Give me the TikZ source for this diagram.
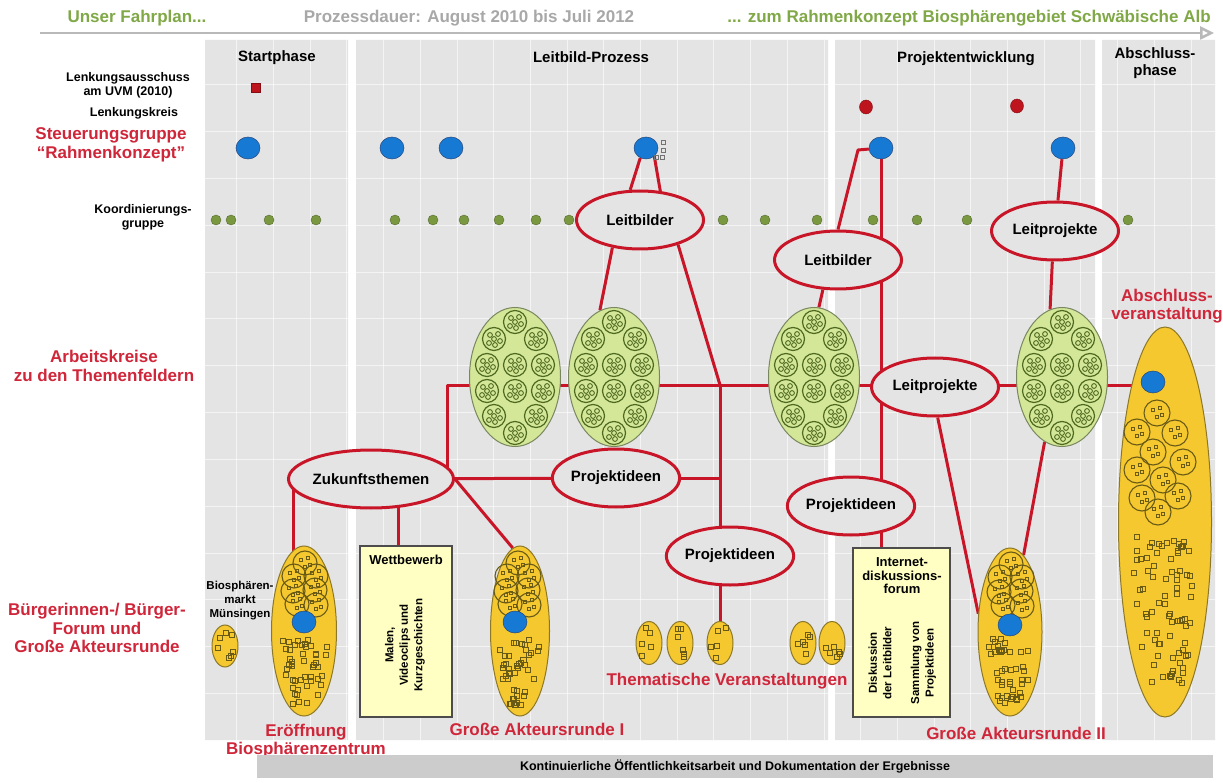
\documentclass[tikz,border=0pt]{standalone}
\usepackage{fontspec}
\setmainfont{Liberation Sans}
\usetikzlibrary{arrows.meta,shapes.geometric,calc}

\definecolor{panelgray}{RGB}{228,228,228}
\definecolor{redline}{RGB}{200,22,40}
\definecolor{redtext}{RGB}{208,38,58}
\definecolor{headgreen}{RGB}{128,168,70}
\definecolor{headgray}{RGB}{168,168,168}
\definecolor{sgblue}{RGB}{22,122,212}
\definecolor{sgdark}{RGB}{40,70,120}
\definecolor{lkred}{RGB}{190,20,30}
\definecolor{kgfill}{RGB}{122,152,64}
\definecolor{kgdark}{RGB}{88,108,52}
\definecolor{akfill}{RGB}{212,230,152}
\definecolor{akline}{RGB}{120,135,95}
\definecolor{akdark}{RGB}{78,106,32}
\definecolor{evfill}{RGB}{245,200,48}
\definecolor{evline}{RGB}{140,120,40}
\definecolor{evdark}{RGB}{105,90,22}
\definecolor{boxfill}{RGB}{255,255,196}
\definecolor{bargray}{RGB}{204,204,204}

\pgfdeclarelayer{back}
\pgfdeclarelayer{background}
\pgfsetlayers{back,background,main}

\begin{document}
\begin{tikzpicture}[x=1pt,y=-1pt,
    main node/.style={ellipse, draw=redline, line width=3pt, fill=panelgray, inner sep=0pt,
                      minimum width=127pt, minimum height=58pt, font=\bfseries\fontsize{15}{17}\selectfont},
    ak node/.style={ellipse, draw=akline, line width=1pt, fill=akfill, minimum width=91pt, minimum height=139pt},
    ev node/.style={ellipse, draw=evline, line width=1pt, fill=evfill, inner sep=0pt},
    box node/.style={rectangle, draw=black!70, line width=1.2pt, fill=boxfill, inner sep=0pt},
    sg dot/.style={ellipse, draw=sgdark, line width=0.5pt, fill=sgblue, minimum width=24pt, minimum height=22pt, inner sep=0pt},
    lk dot/.style={ellipse, fill=lkred, draw=lkred!70!black, minimum width=13pt, minimum height=14pt, inner sep=0pt},
    la box/.style={rectangle, fill=lkred, draw=lkred!70!black, minimum size=9pt, inner sep=0pt},
    kg dot/.style={circle, fill=kgfill, draw=kgdark, minimum size=10pt, inner sep=0pt},
    head/.style={font=\bfseries\fontsize{17}{19}\selectfont},
    row label/.style={font=\bfseries\fontsize{12.5}{14}\selectfont, align=center},
    small label/.style={font=\bfseries\fontsize{11.5}{14}\selectfont, align=center},
    red label/.style={text=redtext, font=\bfseries\fontsize{17}{18.5}\selectfont, align=center},
    phase title/.style={font=\bfseries\fontsize{15}{17}\selectfont, align=center},
    box title/.style={font=\bfseries\fontsize{13}{13.5}\selectfont, align=center},
    box text/.style={font=\bfseries\fontsize{11.5}{14.5}\selectfont, align=center, rotate=90},
    connector/.style={draw=redline, line width=3pt, line join=round},
    ring/.style={draw=akdark, line width=1.2pt},
    ev ring/.style={draw=evdark, line width=1.1pt},
    ev square/.style={draw=evdark, line width=0.9pt}]

  \useasboundingbox (0,0) rectangle (1223,783);

  %Panels%
  \begin{pgfonlayer}{back}
    \fill[white] (0,0) rectangle (1223,783);
    \fill[panelgray] (205,40) rectangle (348,740)
                     (356,40) rectangle (828,740)
                     (835,40) rectangle (1095,740)
                     (1102,40) rectangle (1215,740);
    \foreach \k in {6,...,32}
      \draw[white, opacity=0.6, line width=1pt] ({16.6+36.7*\k},40) -- ++(0,700);
    \foreach \k in {0,...,13}
      \draw[white, opacity=0.6, line width=1pt] (205,{85+46.8*\k}) -- (1215,{85+46.8*\k});
  \end{pgfonlayer}

  %Header%
  \node[head, text=headgreen] (fahrplan) at (137,18) {Unser Fahrplan...};
  \node[head, text=headgray] (dauer) at (469,18) {Prozessdauer: August 2010 bis Juli 2012};
  \node[head, text=headgreen] (ziel) at (969,18) {... zum Rahmenkonzept Biosphärengebiet Schwäbische Alb};
  \coordinate (zeit0) at (40,33);
  \coordinate (zeit1) at (1214,33);
  \draw[headgray!80, line width=2.5pt, -{Triangle[open,length=14pt,width=13pt]}] (zeit0) -- (zeit1);

  %Phases%
  \node[phase title] (start) at (277,58) {Startphase};
  \node[phase title] (leitbild) at (591,57) {Leitbild-Prozess};
  \node[phase title] (projekt) at (966,59) {Projektentwicklung};
  \node[phase title] (abschluss) at (1155,63) {Abschluss-\\phase};

  %Rows%
  \node[row label] (lenkaus) at (128,85) {Lenkungsausschuss\\am UVM (2010)};
  \node[row label] (lenkkreis) at (134,113) {Lenkungskreis};
  \node[red label] (steuer) at (111,145) {Steuerungsgruppe\\“Rahmenkonzept”};
  \node[row label] (koord) at (143,217) {Koordinierungs-\\gruppe};
  \node[red label] (arbeit) at (104,366) {Arbeitskreise\\zu den Themenfeldern};
  \node[red label] (forum) at (97,628) {Bürgerinnen-/ Bürger-\\Forum und\\Große Akteursrunde};

  %Dots%
  \node[la box] (la) at (256,88) {};
  \node[lk dot] (lk1) at (866,107) {};
  \node[lk dot] (lk2) at (1017,106) {};
  \foreach \n/\x in {1/248,2/392,3/451,4/646,5/881,6/1063}
    \node[sg dot] (sg\n) at (\x,148) {};
  \foreach \dx/\dy in {17/-6,17/2,10/9,16/9}
    \draw[black!55, line width=0.6pt] ($(sg4)+(\dx,\dy)$) ++(-2,-2) rectangle ++(4,4);
  \foreach \x [count=\n] in {216,231,269,316,395,433,464,499,536,569,723,765,817,873,917,967,1128}
    \node[kg dot] (kg\n) at (\x,220) {};

  %Arbeitskreise%
  \node[ak node] (ak1) at (515,377) {};
  \node[ak node] (ak2) at (614,377) {};
  \node[ak node] (ak3) at (814,377) {};
  \node[ak node] (ak4) at (1062,377) {};

  %Ellipses%
  \node[main node] (lb1) at (640,220) {Leitbilder};
  \node[main node] (lb2) at (838,260) {Leitbilder};
  \node[main node] (lp1) at (1055,231) {Leitprojekte};
  \node[main node] (lp2) at (935,387) {Leitprojekte};
  \node[main node, minimum width=129pt] (zt) at (371,479) {Zukunftsthemen};
  \node[main node] (pi1) at (616,478) {Projektideen};
  \node[main node] (pi2) at (730,556) {Projektideen};
  \node[main node] (pi3) at (851,506) {Projektideen};

  %Events%
  \node[small label] (markt) at (240,601) {Biosphären-\\markt\\Münsingen};
  \node[ev node, minimum width=26pt, minimum height=42pt] (ev1) at (225,646) {};
  \node[ev node, minimum width=65pt, minimum height=170pt] (ev2) at (304,631) {};
  \node[ev node, minimum width=59pt, minimum height=170pt] (ev3) at (520,631) {};
  \node[ev node, minimum width=64pt, minimum height=168pt] (ev4) at (1010,632) {};
  \node[ev node, minimum width=93pt, minimum height=390pt] (ev5) at (1165,522) {};
  \foreach \x [count=\n] in {649,680,720,803,832}
    \node[ev node, minimum width=26pt, minimum height=43pt] (th\n) at (\x,643) {};

  %Boxes%
  \node[box node, minimum width=92pt, minimum height=171pt] (wb) at (406,631.5) {};
  \node[box node, minimum width=97pt, minimum height=169pt] (ip) at (901.5,632.5) {};
  \node[box title] (wbt) at (406,560) {Wettbewerb};
  \node[box text] (wbx) at (405,645) {Malen,\\Videoclips und\\Kurzgeschichten};
  \node[box title] (ipt) at (902,576) {Internet-\\diskussions-\\forum};
  \node[box text] (ipx1) at (880,663) {Diskussion\\der Leitbilder};
  \node[box text] (ipx2) at (923.5,663) {Sammlung von\\Projektideen};

  %Labels%
  \node[red label] (eroeff) at (306,741) {Eröffnung\\Biosphärenzentrum};
  \node[red label] (gar1) at (537,729) {Große Akteursrunde I};
  \node[red label] (thema) at (727,681) {Thematische Veranstaltungen};
  \node[red label] (gar2) at (1016,733) {Große Akteursrunde II};
  \node[red label] (absch) at (1167,306) {Abschluss-\\veranstaltung};
  \node[fill=bargray, minimum width=956pt, minimum height=23pt, inner sep=0pt,
        font=\bfseries\fontsize{12.5}{14}\selectfont] (oeff) at (735,766.5)
        {Kontinuierliche Öffentlichkeitsarbeit und Dokumentation der Ergebnisse};

  %Rings%
  \foreach \ak in {ak1,ak2,ak3,ak4}
    \foreach \dx/\dy in {0/-55,-21/-38,21/-38,-28/-12,0/-12,28/-12,-28/14,0/14,28/14,-21/39,21/39,0/56}{
      \draw[ring] ($(\ak)+(\dx,\dy)$) circle[radius=11.5];
      \foreach \ex/\ey in {-4/-4,4/-5,6/2,-5/4,1/6,0/0}
        \draw[ring, line width=0.9pt] ($(\ak)+(\dx,\dy)+(\ex,\ey)$) circle[radius=2.4];
    }
  \foreach \ev/\sh in {ev2/0,ev3/-3,ev4/0}
    \foreach \dx/\dy in {1/-68,-10/-55,12/-55,-11/-40,11/-41,-7/-27,12/-26}{
      \draw[ev ring] ($(\ev)+(\dx+\sh,\dy)$) circle[radius=12];
      \foreach \ex/\ey in {-4/-3,3/-5,0/4,5/2}
        \draw[ev square, line width=0.7pt] ($(\ev)+(\dx+\sh,\dy)+(\ex,\ey)$) ++(-1.8,-1.8) rectangle ++(3.6,3.6);
    }
  \foreach \dx/\dy in {-8/-109,-28/-90,10/-89,-12/-70,18/-60,-28/-52,-2/-42,-23/-24,13/-26,-7/-10}{
    \draw[ev ring] ($(ev5)+(\dx,\dy)$) circle[radius=13];
    \foreach \ex/\ey in {-4/-3,3/-5,0/4,5/2}
      \draw[ev square, line width=0.7pt] ($(ev5)+(\dx,\dy)+(\ex,\ey)$) ++(-1.8,-1.8) rectangle ++(3.6,3.6);
  }
  \pgfmathsetseed{42}
  \foreach \ev/\a/\b/\ya/\yb/\m in {ev1/13/21/-15/15/7,ev2/33/85/8/74/46,ev3/30/85/8/74/44,
      ev4/32/84/6/72/44,ev5/46/195/14/162/80,th1/13/21/-15/15/6,th2/13/21/-15/15/6,
      th3/13/21/-15/15/6,th4/13/21/-15/15/6,th5/13/21/-15/15/6}
    \foreach \i in {1,...,\m}{
      \pgfmathsetmacro\sy{\ya+rnd*(\yb-\ya)}
      \pgfmathsetmacro\hw{0.7*\a*sqrt(max(0,1-(\sy/\b)*(\sy/\b)))}
      \pgfmathsetmacro\sx{rand*\hw}
      \draw[ev square] ($(\ev)+(\sx,\sy)$) ++(-2.5,-2.5) rectangle ++(5,5);
    }
  \node[sg dot] (dot2) at ($(ev2)+(0,-9)$) {};
  \node[sg dot] (dot3) at ($(ev3)+(-5,-9)$) {};
  \node[sg dot] (dot4) at ($(ev4)+(0,-7)$) {};
  \node[sg dot] (dot5) at ($(ev5)+(-12,-140)$) {};

  %Connectors%
  \begin{pgfonlayer}{background}
    \coordinate (j0) at (447,385);
    \coordinate (j1) at (720,385);
    \coordinate (jz0) at (293,479);
    \coordinate (jz1) at (398,479);
    \coordinate (jz2) at (447,479);
    \coordinate (b5) at (858,150);
    \draw[connector] (jz2) -- (j0) -- (j0 -| ev5);
    \draw[connector] (zt) -- (jz0) -- (jz0 |- ev2);
    \draw[connector] (sg5) -- (b5) -- (lb2.north);
    \path[connector]
      (sg4.240) edge (lb1.108)
      (sg4.315) edge (lb1.55)
      (lb1.225) edge (ak2.102)
      (lb1.327) edge (j1)
      (j1) edge (j1 |- th3)
      (pi1) edge (pi1 -| j1)
      (zt) edge (pi1)
      (jz1) edge (jz1 |- wb.north)
      (zt.east) edge (ev3.95)
      (sg5) edge (sg5 |- ip.north)
      (lb2.243) edge (ak3.86)
      (sg6) edge (lp1)
      (lp1.265) edge (ak4.100)
      (ak4.255) edge (ev4.80)
      (lp2.275) edge (ev4.150);
  \end{pgfonlayer}
\end{tikzpicture}
\end{document}
